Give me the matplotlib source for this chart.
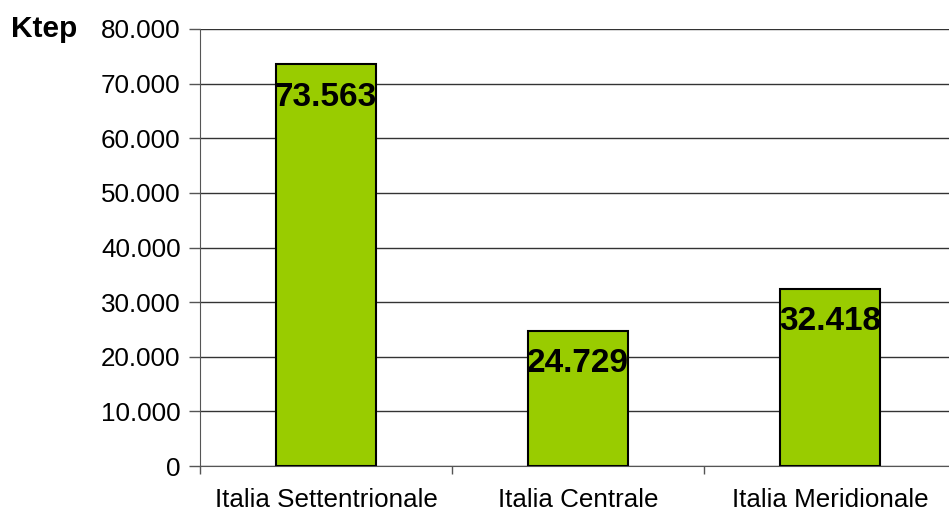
import matplotlib
matplotlib.use("Agg")
import matplotlib.pyplot as plt
from matplotlib.ticker import FuncFormatter

categories = ["Italia Settentrionale", "Italia Centrale", "Italia Meridionale"]
values = [73563, 24729, 32418]
value_labels = ["73.563", "24.729", "32.418"]
y_ticks = [0, 10000, 20000, 30000, 40000, 50000, 60000, 70000, 80000]

plt.rcParams["font.family"] = ["Liberation Sans", "DejaVu Sans"]

W, H = 949, 515
fig = plt.figure(figsize=(W / 100, H / 100), dpi=100)
ax = fig.add_axes([200 / W, (H - 466) / H, 756 / W, (466 - 29) / H])

x = range(len(categories))
bars = ax.bar(x, values, width=0.4, color="#99CC00", edgecolor="black",
              linewidth=1.5, zorder=3)

for bar, lab in zip(bars, value_labels):
    ax.annotate(lab, (bar.get_x() + bar.get_width() / 2, bar.get_height()),
                xytext=(0, -33), textcoords="offset pixels",
                ha="center", va="center", fontsize=24, fontweight="bold",
                color="black", zorder=4)

ax.set_xlim(-0.5, len(categories) - 0.5)
ax.set_ylim(0, 80000)
ax.set_yticks(y_ticks)
ax.yaxis.set_major_formatter(FuncFormatter(
    lambda v, p: "0" if v == 0 else f"{int(v):,}".replace(",", ".")))
ax.yaxis.grid(True, color="#333333", linewidth=1, zorder=0)
ax.set_axisbelow(True)

ax.set_xticks(list(x))
ax.set_xticklabels(categories, fontsize=18.7)
ax.tick_params(axis="x", length=0, pad=16)
ax.set_xticks([i + 0.5 for i in range(-1, len(categories))], minor=True)
ax.tick_params(axis="x", which="minor", length=6, color="#555555", width=1)
ax.tick_params(axis="y", labelsize=18.7, length=8, color="#555555", width=1, pad=6)

for s in ("top", "right"):
    ax.spines[s].set_visible(False)
ax.spines["left"].set_color("#555555")
ax.spines["bottom"].set_color("#555555")

fig.text(44 / W, 1 - 29 / H, "Ktep", fontsize=21.5, fontweight="bold",
         ha="center", va="center")

fig.savefig("out.png", dpi=100)
